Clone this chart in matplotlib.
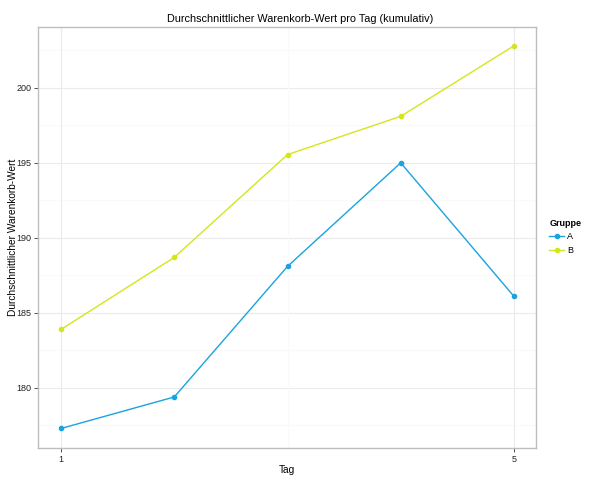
import matplotlib
matplotlib.use('Agg')
import matplotlib.pyplot as plt
from matplotlib.lines import Line2D

plt.rcParams['font.family'] = ['Liberation Sans', 'DejaVu Sans']

tage = [1, 2, 3, 4, 5]
gruppe_a = [177.3, 179.4, 188.1, 195.0, 186.1]
gruppe_b = [183.9, 188.7, 195.55, 198.1, 202.8]
farbe_a = '#1BA3DD'
farbe_b = '#D4E61B'

fig = plt.figure(figsize=(6, 4.8), dpi=100)
ax = fig.add_axes([0.064, 0.0667, 0.8285, 0.877])

# grid like theme_bw
for y in [177.5, 182.5, 187.5, 192.5, 197.5, 202.5]:
    ax.axhline(y, color='#FAFAFA', lw=0.8, zorder=0)
for y in [180, 185, 190, 195, 200]:
    ax.axhline(y, color='#EBEBEB', lw=0.8, zorder=0)
ax.axvline(3, color='#FAFAFA', lw=0.8, zorder=0)
for x in [1, 5]:
    ax.axvline(x, color='#EBEBEB', lw=0.8, zorder=0)

ax.plot(tage, gruppe_a, color=farbe_a, lw=1, marker='o', ms=3, zorder=3)
ax.plot(tage, gruppe_b, color=farbe_b, lw=1, marker='o', ms=3, zorder=3)

ax.set_xlim(0.8, 5.19)
ax.set_ylim(176.0, 204.05)
ax.set_xticks([1, 5])
ax.set_yticks([180, 185, 190, 195, 200])
ax.tick_params(labelsize=6.5, length=3, width=0.6, color='#333333', labelcolor='#222222', pad=2)

for s in ax.spines.values():
    s.set_color('#BDBDBD')
    s.set_linewidth(1)

fig.text(0.5, 0.96, 'Durchschnittlicher Warenkorb-Wert pro Tag (kumulativ)',
         fontsize=7.8, ha='center', va='center')
ax.set_xlabel('Tag', fontsize=7.3, labelpad=1)
ax.set_ylabel('Durchschnittlicher Warenkorb-Wert', fontsize=7.3)
ax.yaxis.set_label_coords(-0.041, 0.5)

handles = [Line2D([0], [0], color=farbe_a, lw=1, marker='o', ms=3),
           Line2D([0], [0], color=farbe_b, lw=1, marker='o', ms=3)]
leg = fig.legend(handles, ['A', 'B'], title='Gruppe', loc='upper left',
                 bbox_to_anchor=(0.905, 0.557), fontsize=6.5, title_fontsize=6.5,
                 frameon=False, handlelength=1.6, handletextpad=0.4, borderpad=0.2,
                 labelspacing=0.5)
leg.get_title().set_fontweight('bold')
leg._legend_box.align = 'left'

fig.savefig('out.png', dpi=100)
